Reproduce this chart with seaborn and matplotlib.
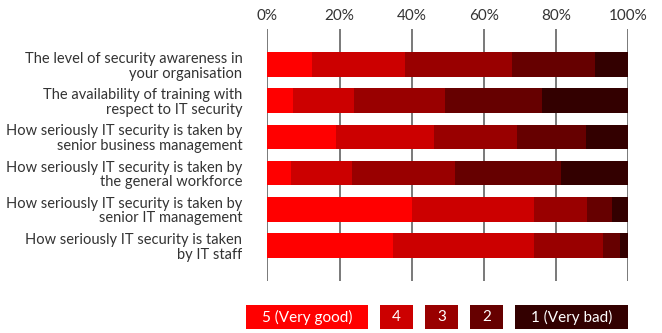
import matplotlib
matplotlib.use("Agg")
import matplotlib.pyplot as plt
from matplotlib.patches import Rectangle
import numpy as np
import pandas as pd
import seaborn as sns

categories = [
    "The level of security awareness in\nyour organisation",
    "The availability of training with\nrespect to IT security",
    "How seriously IT security is taken by\nsenior business management",
    "How seriously IT security is taken by\nthe general workforce",
    "How seriously IT security is taken by\nsenior IT management",
    "How seriously IT security is taken\nby IT staff",
]
rating_labels = ["5 (Very good)", "4", "3", "2", "1 (Very bad)"]
very_good = [12.3, 7.2, 19.0, 6.6, 40.1, 34.9]
good = [25.8, 16.8, 27.2, 16.9, 33.8, 39.0]
neutral = [29.6, 25.2, 23.0, 28.5, 14.7, 19.2]
bad = [23.1, 26.8, 19.1, 29.4, 6.9, 4.6]
very_bad = [9.2, 24.0, 11.7, 18.6, 4.5, 2.3]
xticks = [0, 20, 40, 60, 80, 100]

colors = ["#FF0000", "#CC0000", "#990000", "#660000", "#330000"]
text_color = "#333333"
line_color = "#6e6e6e"

sns.set_theme(style="white")
plt.rcParams["font.family"] = ["Lato", "DejaVu Sans"]

fig = plt.figure(figsize=(6.62, 3.33), dpi=100)
W, H = 662, 333
ax = fig.add_axes([267.3 / W, 1 - 281 / H, (628.3 - 267.3) / W, (281 - 29) / H])

series = [very_good, good, neutral, bad, very_bad]
cum = np.cumsum(np.array(series), axis=0)

# overlapping cumulative bars, widest first, produce the stacked look
for i in range(len(series) - 1, -1, -1):
    df = pd.DataFrame({"category": categories, "value": cum[i]})
    sns.barplot(data=df, x="value", y="category", orient="h", color=colors[i],
                saturation=1, width=0.68, linewidth=0, ax=ax, zorder=2)

ax.set_xlim(0, 100)
ax.set_ylim(5.98, -0.98)
ax.set_xlabel("")
ax.set_ylabel("")
ax.set_xticks(xticks)
ax.set_xticklabels([f"{t}%" for t in xticks])
ax.xaxis.tick_top()
ax.tick_params(axis="x", length=0, pad=4, labelsize=11, labelcolor=text_color)
ax.tick_params(axis="y", length=0, pad=18, labelsize=10.5, labelcolor=text_color)
for lab in ax.get_yticklabels():
    lab.set_linespacing(1.05)
    lab.set_horizontalalignment("right")
for t in xticks:
    ax.axvline(t, color=line_color, lw=1.3, zorder=1)
for s in ax.spines.values():
    s.set_visible(False)

# legend boxes along the bottom
boxes = [(246, 368), (380, 413), (425, 458), (470, 503), (515, 628)]
y0, y1 = 305, 329.3
for (xa, xb), c, lab in zip(boxes, colors, rating_labels):
    fig.patches.append(Rectangle((xa / W, 1 - y1 / H), (xb - xa) / W, (y1 - y0) / H,
                                 transform=fig.transFigure, facecolor=c,
                                 edgecolor="none"))
    fig.text((xa + xb) / 2 / W, 1 - (y0 + y1) / 2 / H, lab, color="white",
             ha="center", va="center", fontsize=11)

fig.savefig("out.png", dpi=100)
